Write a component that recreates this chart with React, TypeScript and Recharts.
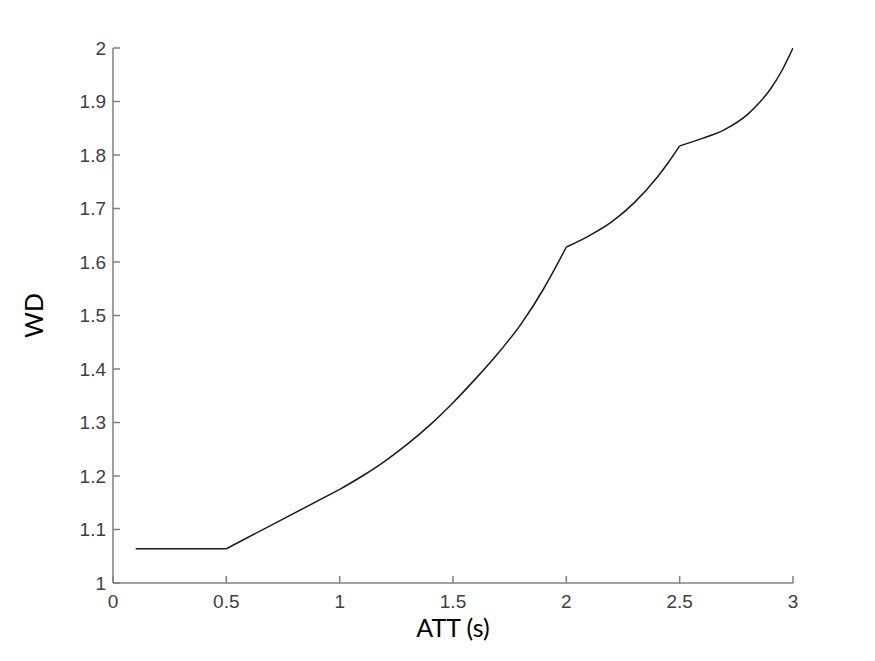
import React from 'react';
import { LineChart, Line, XAxis, YAxis, Label } from 'recharts';

// ATT (s) sample points and the WD
const att = [0.1, 0.5, 1.0, 1.1, 1.2, 1.3, 1.4, 1.5, 1.6, 1.7, 1.8, 1.9, 1.95, 2.0, 2.1, 2.2, 2.3, 2.4, 2.45, 2.5, 2.6, 2.7, 2.8, 2.85, 2.9, 2.95, 3.0];
const wd = [1.064, 1.064, 1.175, 1.2, 1.228, 1.26, 1.296, 1.337, 1.382, 1.43, 1.484, 1.55, 1.588, 1.628, 1.649, 1.675, 1.711, 1.758, 1.786, 1.817, 1.831, 1.848, 1.876, 1.897, 1.923, 1.957, 2.0];

// the curve has kinks at these ATT values, each piece is smoothed on its own
const breaks = [0.1, 0.5, 1.0, 2.0, 2.5, 3.0];

const xTicks = [0, 0.5, 1, 1.5, 2, 2.5, 3];
const yTicks = [1, 1.1, 1.2, 1.3, 1.4, 1.5, 1.6, 1.7, 1.8, 1.9, 2];

const data = att.map((x, i) => ({ att: x, wd: wd[i] }));
const pieces = breaks.slice(1).map((end, i) =>
  data.filter(d => d.att >= breaks[i] && d.att <= end)
);

const axisColor = '#808080';
const tickFont = { fill: '#404040', fontSize: 19, fontFamily: '"Liberation Sans", Arial, sans-serif' };
const labelFont = 'Lato, "Open Sans", sans-serif';

export default function App() {
  return (
    <div style={{ position: 'absolute', left: 0, top: 0, background: '#fff' }}>
      <LineChart width={875} height={661} data={data} margin={{ top: 48, right: 82, bottom: 48, left: 0 }}>
        <XAxis
          dataKey="att"
          type="number"
          domain={[0, 3]}
          ticks={xTicks}
          allowDataOverflow
          height={30}
          stroke={axisColor}
          strokeWidth={1.5}
          tickSize={-7}
          tickMargin={19}
          tick={tickFont}
        >
          <Label
            value="ATT (s)"
            position="bottom"
            offset={6}
            style={{ fontSize: 25, fill: '#000', fontFamily: labelFont }}
          />
        </XAxis>
        <YAxis
          dataKey="wd"
          type="number"
          domain={[1, 2]}
          ticks={yTicks}
          allowDataOverflow
          width={113}
          stroke={axisColor}
          strokeWidth={1.5}
          tickSize={-7}
          tickMargin={14}
          tick={tickFont}
        >
          <Label
            value="WD"
            angle={-90}
            position="insideLeft"
            offset={34}
            style={{ fontSize: 25, fill: '#000', fontFamily: labelFont, textAnchor: 'middle' }}
          />
        </YAxis>
        {pieces.map((piece, i) => (
          <Line
            key={i}
            data={piece}
            type={i < 2 ? 'linear' : 'monotone'}
            dataKey="wd"
            stroke="#1a1a1a"
            strokeWidth={1.5}
            dot={false}
            isAnimationActive={false}
          />
        ))}
      </LineChart>
    </div>
  );
}
